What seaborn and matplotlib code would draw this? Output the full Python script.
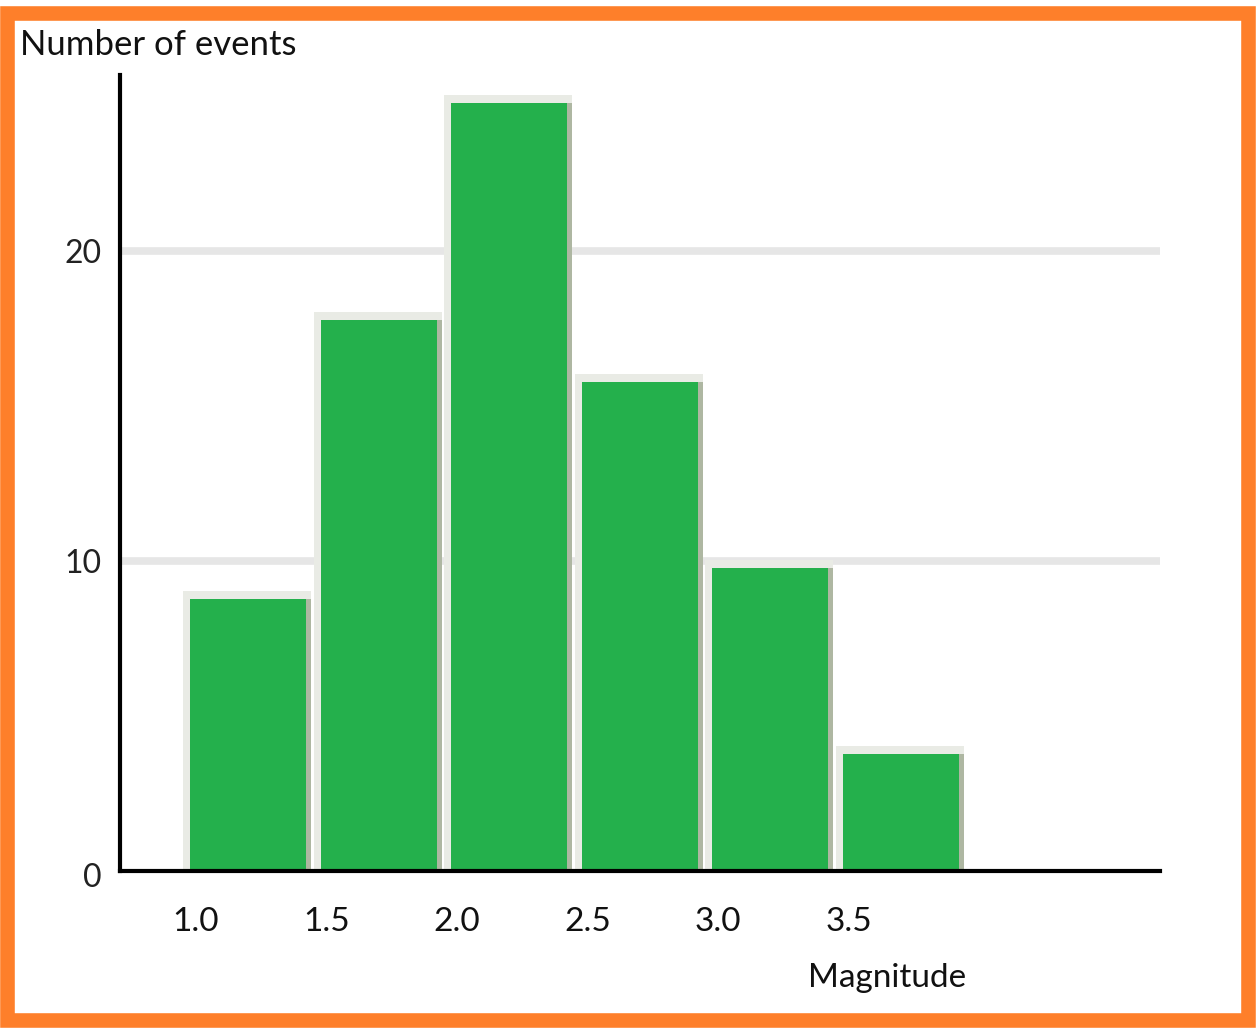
import matplotlib
matplotlib.use("Agg")
import matplotlib.pyplot as plt
import matplotlib.transforms as mtransforms
import numpy as np
import pandas as pd
import seaborn as sns
from matplotlib.patches import Rectangle

# data
magnitudes = [1.0, 1.5, 2.0, 2.5, 3.0, 3.5]
counts = [9, 18, 25, 16, 10, 4]
tick_labels = ["1.0", "1.5", "2.0", "2.5", "3.0", "3.5"]
y_ticks = [0, 10, 20]

BIN = 0.5
BAR_FRAC = 0.89          # bar width relative to bin width
GREEN = "#24b04c"
HALO = "#e9ebe5"
EDGE = "#aeb7a2"
ORANGE = "#fe7f2a"
GRID = "#e6e6e6"
FONT = ["Lato", "DejaVu Sans"]

W, H, DPI = 1257, 1030, 100

sns.set_theme(style="white")
plt.rcParams["font.family"] = FONT

fig = plt.figure(figsize=(W / DPI, H / DPI), dpi=DPI)
ax = fig.add_axes([120 / W, 1 - 871 / H, (1160 - 120) / W, (871 - 75) / H])

x_min, x_max = 1.0 - 70 / 261, 1.0 + 970 / 261
y_max = (871 - 75) / 31
px_x = 1 / 261   # data units per pixel
px_y = 1 / 31

bar_w = BIN * BAR_FRAC
df = pd.DataFrame({"center": np.array(magnitudes) + bar_w / 2, "count": counts})
# the green face sits a few pixels under the frame edge, as in the drawing
df["face"] = df["count"] - 7 * px_y

# soft shadow frame behind each bar
ax.bar(df["center"] - 1 * px_x, df["count"] + 1 * px_y,
       width=bar_w + 12 * px_x, color=HALO, zorder=1, linewidth=0)
ax.bar(df["center"] + bar_w / 2 + 2 * px_x, df["face"],
       width=6 * px_x, color=EDGE, zorder=2, linewidth=0)

sns.barplot(data=df, x="center", y="face", native_scale=True,
            width=BAR_FRAC, color=GREEN, saturation=1, linewidth=0,
            ax=ax, zorder=3)

ax.set_xlim(x_min, x_max)
ax.set_ylim(0, y_max)
ax.set_xlabel("")
ax.set_ylabel("")

ax.set_yticks(y_ticks)
ax.set_yticklabels([str(t) for t in y_ticks], fontsize=23, color="#222222")
ax.set_xticks(magnitudes)
ax.set_xticklabels(tick_labels, fontsize=24, color="#111111")
ax.tick_params(axis="x", length=0, pad=26)
ax.tick_params(axis="y", length=0, pad=13)
offset = mtransforms.ScaledTranslation(6 / DPI, 0, fig.dpi_scale_trans)
for lab in ax.get_xticklabels():
    lab.set_transform(lab.get_transform() + offset)
ylab_off = mtransforms.ScaledTranslation(0, -4 / DPI, fig.dpi_scale_trans)
ax.get_yticklabels()[0].set_transform(ax.get_yticklabels()[0].get_transform() + ylab_off)

for y in y_ticks[1:]:
    ax.axhline(y, color=GRID, linewidth=5.5, zorder=0)

sns.despine(ax=ax)
for side in ["left", "bottom"]:
    ax.spines[side].set_linewidth(3)
    ax.spines[side].set_color("black")
    ax.spines[side].set_zorder(5)

fig.text(20 / W, 1 - 55 / H, "Number of events", fontsize=25,
         ha="left", va="baseline", color="#111111")
fig.text(808 / W, 1 - 987 / H, "Magnitude", fontsize=24,
         ha="left", va="baseline", color="#111111")

fig.patches.append(Rectangle((6.5 / W, 1 - 1020 / H), (1247.5 - 6.5) / W,
                             (1020 - 12.5) / H, transform=fig.transFigure,
                             fill=False, edgecolor=ORANGE, linewidth=10.5))

fig.savefig("out.png", dpi=DPI)
